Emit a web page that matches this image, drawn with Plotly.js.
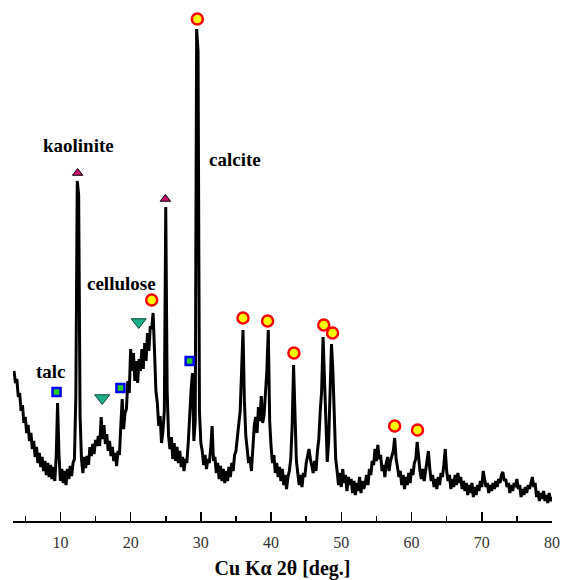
<!DOCTYPE html>
<html>
<head>
<meta charset="utf-8">
<script src="https://cdn.plot.ly/plotly-3.0.1.min.js"></script>
<style>html,body{margin:0;padding:0;background:#fff;}#chart{width:563px;height:580px;}</style>
</head>
<body>
<div id="chart"></div>
<script>
// XRD pattern sampled every 0.2 deg from 3.4 to 80.0 (intensity, arbitrary units)
const twoThetaStart = 3.4;
const twoThetaStep = 0.2;
const intensity = [
  150,138,142,124,128,110,116,98,104,88,
  96,80,88,72,80,64,74,58,68,54,
  64,50,60,46,58,44,56,42,54,40,
  64,118,66,40,52,38,50,36,52,42,
  55,45,58,62,125,340,326,105,62,48,
  64,53,65,56,74,65,77,67,81,75,
  85,75,104,82,96,77,87,70,80,65,
  74,60,68,55,70,66,95,122,92,108,
  112,140,128,172,150,168,140,160,138,162,
  150,172,152,178,160,188,170,195,192,208,
  170,130,118,95,105,78,90,110,314,130,
  85,72,84,62,78,60,74,58,70,54,
  64,50,62,58,78,110,130,148,80,100,
  492,470,110,78,70,56,66,52,62,58,
  72,95,60,64,48,58,42,55,40,52,
  38,50,40,54,44,58,50,66,70,84,
  96,110,150,191,120,85,72,58,64,50,
  72,95,104,88,114,100,125,98,106,125,
  150,191,100,74,58,66,48,58,44,54,
  40,52,36,46,32,44,50,62,95,156,
  95,60,48,36,46,34,48,44,58,64,
  72,62,56,48,60,50,70,82,110,130,
  184,140,90,59,80,125,177,150,95,62,
  50,36,48,34,52,38,46,30,44,36,
  42,28,40,26,38,30,44,28,40,32,
  38,46,36,52,46,60,56,72,60,76,
  62,66,50,56,44,58,64,50,60,66,
  70,83,62,54,44,50,36,46,32,44,
  36,48,38,52,46,58,62,79,60,50,
  42,52,40,50,58,70,52,40,46,34,
  42,32,44,36,48,44,56,72,50,40,
  46,32,42,34,46,36,48,38,44,32,
  40,30,38,26,36,28,38,24,34,26,
  36,30,40,34,50,42,34,38,28,36,
  30,38,32,40,34,42,38,46,49,40,
  42,34,38,28,36,30,38,34,42,32,
  36,24,32,26,34,28,36,32,40,44,
  34,38,24,30,20,28,22,30,20,26,
  18,28,20,24
];
const twoTheta = intensity.map((_, i) => +(twoThetaStart + i * twoThetaStep).toFixed(2));

// Phase markers
const calciteX = [29.5, 23.0, 36.0, 39.5, 43.25, 47.5, 48.75, 57.6, 60.85];
const calciteY = [502, 221, 203, 200, 168, 196, 188, 95, 91];
const kaoliniteX = [12.45, 24.95];
const kaoliniteY = [348, 322];
const celluloseX = [15.95, 21.15];
const celluloseY = [123, 199];
const talcX = [9.45, 18.55, 28.4];
const talcY = [129, 133, 160];

// Labels
const labelText = ["kaolinite", "talc", "cellulose", "calcite"];
const labelX = [12.6, 8.7, 18.7, 34.9];
const labelY = [376, 150, 238, 362];

const serif = "Liberation Serif";

const traces = [
  {x: twoTheta, y: intensity, type: "scatter", mode: "lines",
   line: {color: "#000", width: 3}, hoverinfo: "skip"},
  {x: talcX, y: talcY, type: "scatter", mode: "markers",
   marker: {symbol: "square", size: 8, color: "#22cc22", line: {color: "#0000ff", width: 2.5}}},
  {x: celluloseX, y: celluloseY, type: "scatter", mode: "markers",
   marker: {symbol: "triangle-down", size: 13, color: "#1fae8a", line: {color: "#0b4a3a", width: 1}}},
  {x: kaoliniteX, y: kaoliniteY, type: "scatter", mode: "markers",
   marker: {symbol: "triangle-up", size: 9, color: "#c8106e", line: {color: "#000", width: 1}}},
  {x: calciteX, y: calciteY, type: "scatter", mode: "markers",
   marker: {symbol: "circle", size: 11, color: "#ffff00", line: {color: "#ff0000", width: 2.5}}}
];

const annotations = labelText.map((t, i) => ({
  x: labelX[i], y: labelY[i], xref: "x", yref: "y", text: "<b>" + t + "</b>", showarrow: false,
  font: {family: serif, size: 19, color: "#000"}
}));

const layout = {
  width: 563, height: 580,
  margin: {l: 13, r: 11, t: 0, b: 59},
  paper_bgcolor: "#fff", plot_bgcolor: "#fff",
  font: {family: serif},
  showlegend: false,
  xaxis: {
    range: [3.25, 80], tick0: 0, dtick: 10,
    showline: true, linecolor: "#000", linewidth: 2,
    ticks: "inside", ticklen: 9, tickwidth: 1.5, tickcolor: "#000",
    minor: {dtick: 5, ticks: "inside", ticklen: 5, tickwidth: 1.5, tickcolor: "#000", showgrid: false},
    showgrid: false, zeroline: false,
    ticklabelstandoff: 6,
    tickfont: {family: serif, size: 16, color: "#333"},
    title: {text: "<b>Cu Kα 2θ [deg.]</b>", standoff: 12, font: {family: serif, size: 20, color: "#000"}}
  },
  yaxis: {range: [0, 521], visible: false, showgrid: false, zeroline: false},
  annotations: annotations
};

Plotly.newPlot("chart", traces, layout, {staticPlot: true, displayModeBar: false});
</script>
</body>
</html>
